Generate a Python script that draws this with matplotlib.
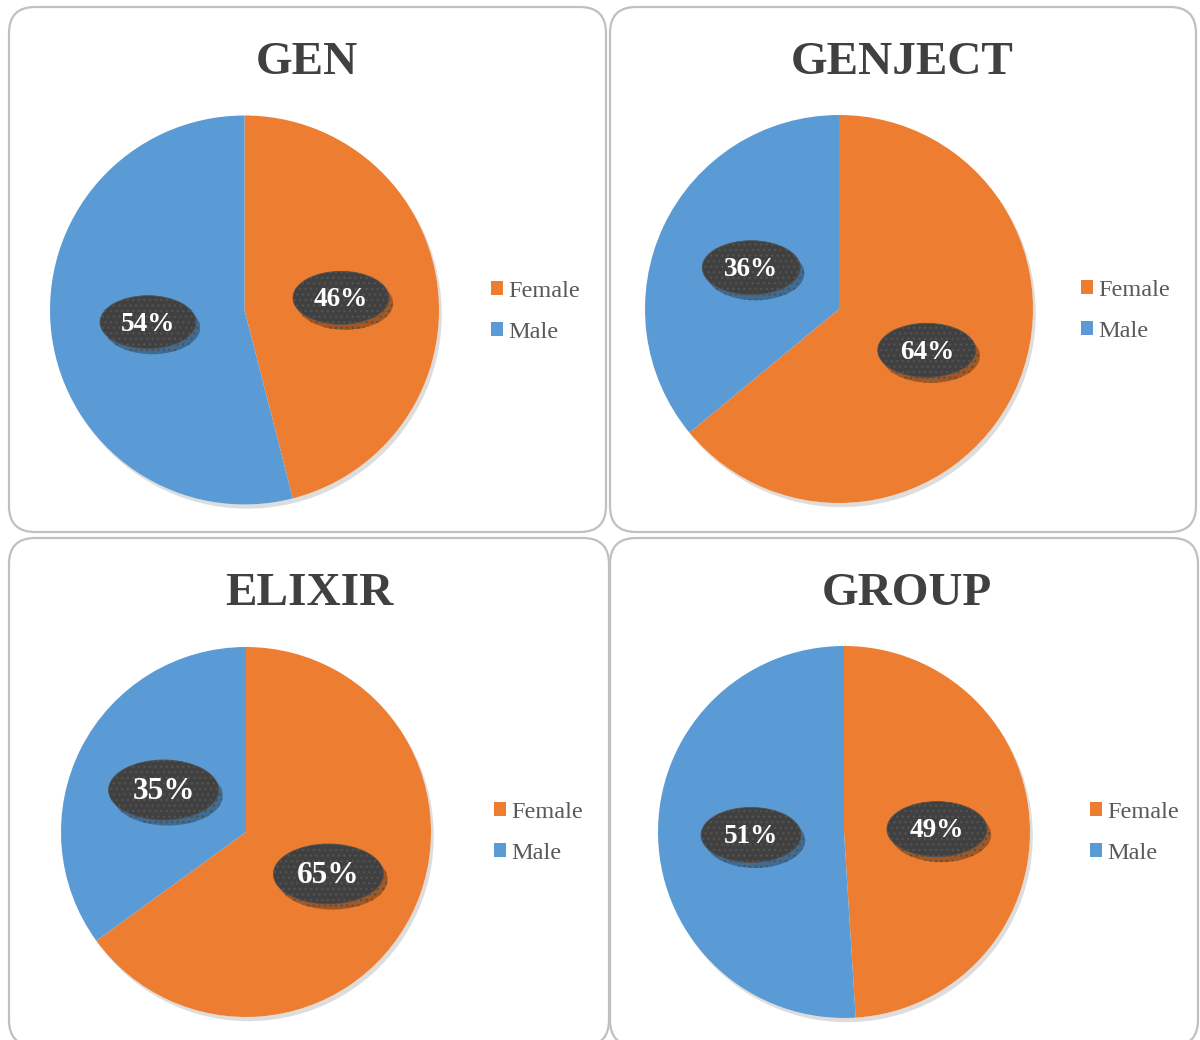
import matplotlib
matplotlib.use("Agg")
import numpy as np
import matplotlib.pyplot as plt
from matplotlib.patches import FancyBboxPatch, Ellipse, Circle
from matplotlib.transforms import IdentityTransform
import matplotlib.patheffects as pe

# ---- data ----
titles = ["GEN", "GENJECT", "ELIXIR", "GROUP"]
categories = ["Female", "Male"]
female = [46, 64, 65, 49]
male = [54, 36, 35, 51]
colors = ["#ED7D31", "#5B9BD5"]

W, H = 1200, 1040
fig = plt.figure(figsize=(W / 100, H / 100), dpi=100)
fig.patch.set_facecolor("white")

serif = ["Liberation Serif", "DejaVu Serif"]

# panel boxes (pixels, top-down y)
panels = [(9, 7, 606, 532), (610, 7, 1196, 532), (9, 538, 609, 1046), (610, 538, 1198, 1046)]
# pie centres & radii (pixels)
pies = [(244.5, 310, 194.5), (839, 309, 194), (246, 832, 185), (844, 832, 186)]
title_pos = [(307, 74), (902, 74), (309, 605), (907, 605)]
legend_pos = [(491, 312), (1081, 311), (494, 833), (1090, 833)]
ell_px = [(96, 53), (98, 54), (110, 60), (100, 55)]
lab_fs = [19.5, 19.5, 22.5, 19.5]

for i in range(4):
    x0, yt, x1, yb = panels[i]
    box = FancyBboxPatch((x0, H - yb), x1 - x0, yb - yt,
                         boxstyle="round,pad=0,rounding_size=26",
                         transform=IdentityTransform(), fc="white",
                         ec="#C0C0C0", lw=1.6, zorder=-5)
    fig.add_artist(box)

    cx, cy, r = pies[i]
    ax = fig.add_axes([(cx - r) / W, (H - cy - r) / H, 2 * r / W, 2 * r / H])
    ax.axis("off")
    shadow = Circle((0, 0), 1.0, fc="white", ec="none", zorder=0, clip_on=False,
                    path_effects=[pe.SimplePatchShadow(offset=(2, -3), shadow_rgbFace="#909090", alpha=0.3),
                                  pe.Normal()])
    ax.add_patch(shadow)
    wedges, _ = ax.pie([female[i], male[i]], colors=colors, startangle=90,
                       counterclock=False, wedgeprops=dict(linewidth=0))
    ax.set_xlim(-1, 1)
    ax.set_ylim(-1, 1)
    for w in wedges:
        w.set_zorder(1)

    ew, eh = ell_px[i]
    vals = [female[i], male[i]]
    for w, v in zip(wedges, vals):
        mid = np.deg2rad((w.theta1 + w.theta2) / 2)
        px, py = 0.5 * np.cos(mid), 0.5 * np.sin(mid)
        el = Ellipse((px, py), ew / r, eh / r, fc="#404040", ec="#525252", lw=0.6,
                     hatch="...", zorder=3,
                     path_effects=[pe.SimplePatchShadow(offset=(3, -4), shadow_rgbFace="#000000", alpha=0.3),
                                   pe.Normal()])
        ax.add_patch(el)
        ax.text(px, py - 0.01, f"{v}%", ha="center", va="center", color="white",
                fontsize=lab_fs[i], fontweight="bold", family=serif, zorder=4)

    tx, ty = title_pos[i]
    fig.text(tx / W, 1 - ty / H, titles[i], ha="center", va="baseline",
             fontsize=34, fontweight="bold", color="#404040", family=serif)

    lx, ly = legend_pos[i]
    leg = ax.legend(wedges, categories, loc="center left",
                    bbox_to_anchor=(lx / W, 1 - ly / H), bbox_transform=fig.transFigure,
                    frameon=False, borderpad=0, borderaxespad=0,
                    handlelength=0.5, handleheight=0.5, handletextpad=0.22,
                    labelspacing=0.82, prop=dict(family=serif, size=17.5))
    for t in leg.get_texts():
        t.set_color("#595959")

fig.savefig("out.png", dpi=100, facecolor="white")
